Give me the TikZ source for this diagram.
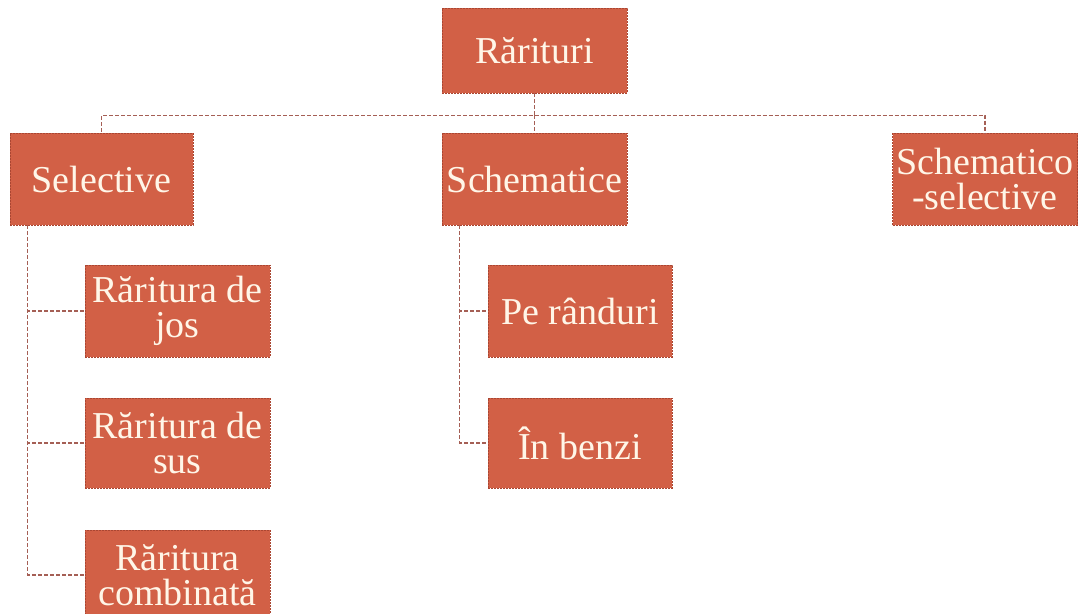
\documentclass[tikz,border=0pt]{standalone}
\usepackage{fontspec}
\setmainfont{Liberation Serif}
\usepackage{xcolor}
\definecolor{rustFill}{RGB}{210, 96, 70}
\definecolor{rustEdge}{RGB}{170, 70, 50}
\definecolor{rustLink}{RGB}{165, 95, 85}
\definecolor{creamText}{RGB}{255, 246, 232}

\begin{document}
\begin{tikzpicture}[x=1pt, y=-1pt]
            % Styles
            \tikzstyle{box} = [rectangle, draw=rustEdge, dash pattern=on 2pt off 1pt, fill=rustFill, text=creamText, minimum width=185pt, minimum height=92pt, inner sep=0pt, align=center, font=\fontsize{38}{35}\selectfont]
            \tikzstyle{link} = [draw=rustLink, line width=1.3pt, dash pattern=on 4pt off 2pt]

            % Frame
            \fill[white] (0,0) rectangle (1083,613);
            \clip (0,0) rectangle (1083,613);

            % Top level
            \node[box, minimum height=85pt] (root) at (534.5, 50.5) {Rărituri};
            \node[box, minimum width=183pt] (sel) at (101.5, 179) {Selective};
            \node[box] (sch) at (534.5, 179) {Schematice};
            \node[box] (schsel) at (985, 179) {Schematico\\-selective};

            % Selective branch
            \node[box] (jos) at (177.5, 311) {Răritura de\\jos};
            \node[box, minimum height=90pt] (sus) at (177.5, 443) {Răritura de\\sus};
            \node[box, minimum height=90pt] (comb) at (177.5, 575) {Răritura\\combinată};

            % Schematice branch
            \node[box, minimum width=184pt] (rand) at (580, 311) {Pe rânduri};
            \node[box, minimum width=184pt, minimum height=90pt] (benzi) at (580, 443) {În benzi};

            % Connectors
            \draw[link] (root.south) -- ++(0,22) coordinate (bus) -| (sel.north);
            \draw[link] (bus) -| (schsel.north);
            \draw[link] (bus) -- (sch.north);
            \draw[link] ([xshift=18pt]sel.south west) |- (jos.west);
            \draw[link] ([xshift=18pt]sel.south west) |- (sus.west);
            \draw[link] ([xshift=18pt]sel.south west) |- (comb.west);
            \draw[link] ([xshift=18pt]sch.south west) |- (rand.west);
            \draw[link] ([xshift=18pt]sch.south west) |- (benzi.west);
        \end{tikzpicture}
\end{document}
